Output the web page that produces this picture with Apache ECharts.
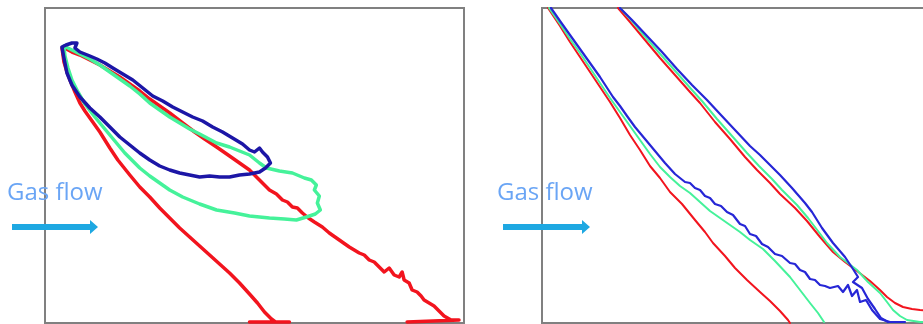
<!DOCTYPE html>
<html>
<head>
<meta charset="utf-8">
<script src="https://cdn.jsdelivr.net/npm/echarts@6/dist/echarts.min.js"></script>
<style>
  html, body { margin: 0; padding: 0; background: #ffffff; }
  #chart { width: 923px; height: 324px; }
</style>
</head>
<body>
<div id="chart"></div>
<script>
// Profiles in two panels; units are arbitrary (x: 0-42, y: 0-31.5).
// Left panel: three looping traces.
const leftRed = [
  [1.8,27.6],[2.7,27.1],[3.5,26.8],[4.5,26.3],[5.5,25.8],[6.5,25.2],[7.5,24.6],[8.5,23.9],
  [9.5,23.2],[10.5,22.4],[11.5,21.7],[12.5,21.0],[13.8,20.0],[15.0,19.1],[16.0,18.4],[17.2,17.6],
  [18.5,16.7],[19.5,16.0],[20.5,15.3],[21.5,14.3],[22.5,13.3],[23.2,12.9],[23.8,12.3],[24.3,12.1],
  [24.8,11.6],[25.3,11.5],[25.8,11.0],[26.4,10.5],[27.0,10.1],[27.8,9.6],[28.5,9.0],[29.5,8.3],
  [30.5,7.6],[31.5,7.0],[32.0,6.8],[32.5,6.3],[33.0,6.1],[33.5,5.6],[34.0,5.1],[34.5,5.5],
  [35.0,4.8],[35.5,4.6],[35.8,5.1],[36.0,4.3],[36.5,4.0],[36.8,3.3],[37.3,3.1],[37.7,2.7],
  [38.0,2.3],[38.5,2.0],[39.0,1.7],[39.5,1.2],[40.0,0.7],[40.2,0.5],[40.7,0.3],[41.5,0.3],
  [41.7,0.1],[36.3,0.1]
];
const leftRedLower = [
  [1.7,27.5],[1.9,26.1],[2.2,25.1],[2.5,24.3],[3.0,23.1],[3.5,22.0],[4.0,21.2],[4.5,20.5],
  [5.5,19.1],[6.5,17.5],[7.3,16.3],[8.5,14.8],[9.5,13.6],[10.5,12.6],[11.5,11.5],[12.5,10.5],
  [13.5,9.5],[14.5,8.6],[15.5,7.7],[16.5,6.8],[17.5,5.9],[18.5,5.0],[19.5,4.0],[20.5,2.9],
  [21.3,2.0],[22.0,1.1],[22.7,0.4],[23.1,0.1],[24.5,0.1],[20.5,0.1]
];
const leftGreen = [
  [1.9,27.7],[2.7,27.3],[3.5,26.9],[4.5,26.4],[5.5,25.8],[6.5,25.1],[7.5,24.4],[8.5,23.7],
  [9.5,22.9],[10.5,22.0],[11.5,21.3],[12.5,20.6],[13.5,20.0],[14.5,19.4],[15.5,18.9],[17.2,18.0],
  [18.5,17.6],[19.5,17.2],[20.5,16.8],[21.5,16.0],[22.2,15.5],[23.5,15.2],[24.8,15.0],[26.0,14.5],
  [26.7,14.3],[27.2,13.8],[27.0,13.3],[27.5,12.7],[27.3,12.0],[27.6,11.3],[27.1,10.9],[26.2,10.6],
  [25.2,10.3],[24.0,10.4],[22.5,10.5],[20.5,10.7],[19.0,11.0],[17.2,11.3],[15.5,11.9],[13.8,12.6],
  [12.5,13.3],[11.5,14.0],[10.5,14.7],[9.5,15.5],[8.8,16.2],[8.0,17.0],[7.0,18.2],[6.0,19.4],
  [5.0,20.6],[4.0,21.9],[3.3,23.1],[2.7,24.3],[2.3,25.5],[2.0,26.7],[1.9,27.6]
];
const leftBlue = [
  [1.7,27.6],[2.1,27.8],[2.7,28.0],[3.2,28.0],[3.0,27.5],[3.5,27.1],[4.5,26.7],[5.2,26.4],
  [6.0,26.0],[6.8,25.5],[7.8,24.9],[8.8,24.3],[9.8,23.5],[10.8,22.7],[11.8,22.2],[12.8,21.6],
  [13.8,21.1],[14.8,20.6],[15.8,20.2],[16.8,19.6],[17.8,19.1],[18.8,18.5],[19.8,17.9],[20.5,17.3],
  [21.0,17.1],[21.5,17.5],[21.8,17.1],[22.3,16.6],[22.6,16.0],[22.1,15.5],[21.5,15.1],[20.5,14.9],
  [19.5,14.8],[18.5,14.6],[17.5,14.6],[16.5,14.7],[15.5,14.6],[14.5,14.8],[13.5,15.0],[12.5,15.3],
  [11.5,15.7],[10.5,16.3],[9.5,17.0],[8.5,17.8],[7.5,18.6],[6.5,19.6],[5.5,20.6],[4.5,21.5],
  [3.5,22.6],[2.7,23.8],[2.2,25.0],[1.9,26.5],[1.7,27.6]
];

// Right panel: two bundles of near-straight traces.
const rightRedA = [
  [0.6,31.5],[1.8,29.7],[2.8,28.1],[3.8,26.6],[4.8,25.1],[5.8,23.6],[6.8,22.1],[7.8,20.5],
  [8.8,18.8],[9.8,17.3],[10.8,15.7],[11.8,14.5],[12.8,13.1],[14.0,11.9],[15.3,10.3],[16.3,9.1],
  [17.1,8.0],[18.3,6.7],[19.3,5.5],[20.5,4.3],[21.8,3.1],[22.8,2.2],[23.8,1.2],[24.6,0.3],[24.8,0.0]
];
const rightGreenA = [
  [0.7,31.5],[1.8,29.9],[2.8,28.4],[3.8,27.0],[4.8,25.5],[5.8,24.0],[6.8,22.5],[7.8,21.1],
  [8.8,19.7],[9.8,18.3],[10.8,16.9],[11.8,15.6],[12.8,14.6],[13.8,13.7],[14.8,13.0],[15.8,12.1],
  [16.8,11.2],[17.8,10.5],[18.8,9.8],[19.8,9.1],[20.8,8.3],[22.1,7.4],[23.3,6.2],[24.8,4.6],
  [25.8,3.3],[26.8,2.0],[27.6,1.0],[28.2,0.1]
];
const rightBlueA = [
  [0.9,31.5],[1.8,30.2],[2.8,28.8],[3.8,27.4],[4.8,26.0],[5.8,24.6],[7.1,22.6],[7.8,21.7],
  [8.5,20.7],[9.3,19.6],[10.3,18.4],[11.3,17.2],[12.3,16.0],[13.3,14.9],[14.3,14.1],[14.8,14.0],
  [15.3,13.5],[15.8,13.3],[16.3,12.7],[16.8,12.5],[17.3,11.9],[17.9,11.7],[18.5,11.1],[19.1,10.8],
  [19.8,9.9],[20.3,9.7],[20.8,8.9],[21.4,8.7],[22.0,7.9],[22.6,7.6],[23.3,6.9],[24.0,6.7],
  [24.8,6.0],[25.3,5.9],[25.8,5.3],[26.3,5.1],[26.8,4.4],[27.3,4.3],[27.8,3.8],[28.3,3.7],
  [28.8,3.5],[29.6,3.7],[30.1,3.1],[30.6,3.8],[31.0,2.7],[31.5,3.3],[31.8,2.1],[32.4,2.3],
  [33.0,1.3],[33.8,0.4],[34.8,0.1],[36.3,0.1]
];
const rightRedB = [
  [7.6,31.5],[8.8,30.1],[10.3,28.3],[11.8,26.5],[13.3,24.8],[14.8,23.1],[15.8,22.0],[17.3,20.1],
  [18.8,18.4],[20.3,16.6],[21.5,15.3],[22.8,14.0],[23.8,12.9],[25.3,11.5],[26.5,10.2],[27.8,8.6],
  [29.1,7.1],[30.3,6.1],[31.5,5.2],[32.8,4.2],[33.8,3.3],[34.5,2.6],[35.3,2.0],[36.1,1.6],
  [37.0,1.4],[37.8,1.3],[39.3,1.2]
];
const rightGreenB = [
  [7.8,31.5],[9.0,30.2],[10.5,28.4],[12.0,26.7],[13.5,25.0],[15.0,23.3],[16.0,22.2],[17.5,20.4],
  [19.0,18.7],[20.5,17.0],[21.7,15.7],[23.0,14.4],[24.0,13.3],[25.5,11.8],[26.6,10.5],[27.6,9.2],
  [28.5,8.0],[29.8,6.6],[31.5,5.3],[32.6,4.1],[33.8,3.0],[34.5,2.1],[35.1,1.3],[35.8,0.7],
  [36.5,0.3],[37.8,0.1],[39.3,0.1]
];
const rightBlueB = [
  [7.8,31.5],[9.0,30.3],[10.5,28.7],[12.0,27.1],[13.5,25.4],[15.0,23.8],[16.5,22.3],[17.8,20.9],
  [19.3,19.3],[20.8,17.7],[21.8,16.8],[22.8,15.8],[23.8,14.8],[25.0,13.5],[26.3,12.0],[27.0,11.1],
  [27.5,10.3],[28.0,9.5],[29.1,8.0],[30.3,6.6],[31.1,5.4],[31.6,4.6],[31.1,4.1],[32.0,3.5],
  [32.6,2.4],[33.3,1.4],[33.9,0.5],[34.6,0.1]
];

const labelText = 'Gas flow';

const RED = '#f2141e', GREEN = '#45f29a', BLUE_L = '#1c16a6', BLUE_R = '#2626d6';

function trace(data, color, width, gi) {
  return {
    type: 'line', data: data, xAxisIndex: gi, yAxisIndex: gi,
    showSymbol: false, silent: true, animation: false, clip: true,
    lineStyle: { color: color, width: width, join: 'round', cap: 'round' }
  };
}

const axisX = (gi) => ({ type: 'value', gridIndex: gi, min: 0, max: 42,
  axisLine: { show: false }, axisTick: { show: false }, axisLabel: { show: false }, splitLine: { show: false } });
const axisY = (gi) => ({ type: 'value', gridIndex: gi, min: 0, max: 31.5,
  axisLine: { show: false }, axisTick: { show: false }, axisLabel: { show: false }, splitLine: { show: false } });

function flowMark(textX, arrowX0, arrowX1) {
  return [
    { type: 'text', left: textX, top: 181, z: 100,
      style: { text: labelText, font: '24px "Open Sans", sans-serif', fill: '#6aa5f5' } },
    { type: 'polygon', z: 100,
      shape: { points: [[arrowX0, 224], [arrowX1 - 8, 224], [arrowX1 - 8, 220], [arrowX1, 227],
                        [arrowX1 - 8, 234], [arrowX1 - 8, 230], [arrowX0, 230]] },
      style: { fill: '#1ea8e2' } }
  ];
}

const chart = echarts.init(document.getElementById('chart'), null, { renderer: 'canvas' });
chart.setOption({
  animation: false,
  backgroundColor: '#ffffff',
  grid: [
    { left: 45, top: 8, width: 419, height: 315, outerBoundsMode: 'none', show: true,
      borderColor: '#808080', borderWidth: 2, backgroundColor: 'transparent' },
    { left: 542, top: 8, width: 420, height: 315, outerBoundsMode: 'none', show: true,
      borderColor: '#808080', borderWidth: 2, backgroundColor: 'transparent' }
  ],
  xAxis: [axisX(0), axisX(1)],
  yAxis: [axisY(0), axisY(1)],
  series: [
    trace(leftRedLower, RED, 3.5, 0),
    trace(leftRed, RED, 3.5, 0),
    trace(leftGreen, GREEN, 3.5, 0),
    trace(leftBlue, BLUE_L, 3.5, 0),
    trace(rightRedA, RED, 2, 1),
    trace(rightRedB, RED, 2, 1),
    trace(rightGreenA, GREEN, 2, 1),
    trace(rightGreenB, GREEN, 2, 1),
    trace(rightBlueA, BLUE_R, 2.2, 1),
    trace(rightBlueB, BLUE_R, 2.2, 1)
  ],
  graphic: [].concat(flowMark(7, 12, 98), flowMark(497, 503, 590))
});
</script>
</body>
</html>
